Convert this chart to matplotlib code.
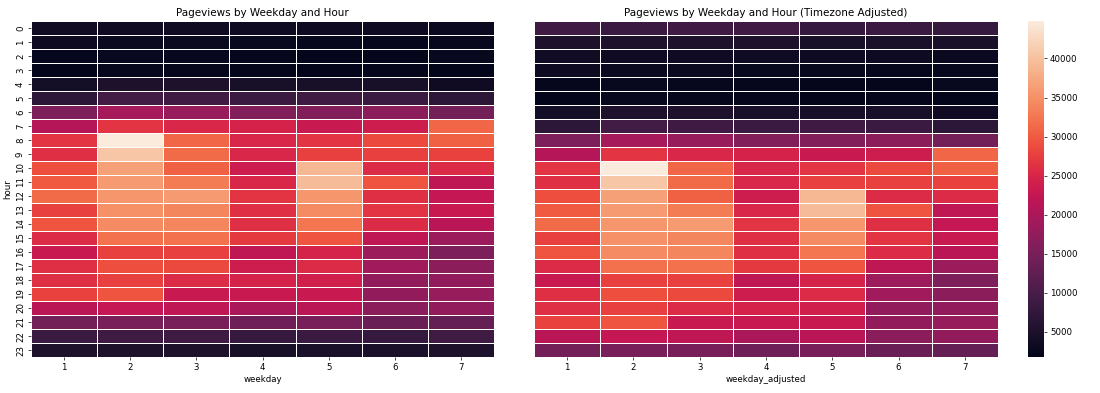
import matplotlib
matplotlib.use("Agg")
import matplotlib.pyplot as plt
import numpy as np
import pandas as pd
import seaborn as sns


# pageviews per hour (rows 0..23) and weekday (columns 1..7)
hours = list(range(24))
weekdays = [1, 2, 3, 4, 5, 6, 7]

pageviews = [
    [3800, 3500, 3500, 3400, 3200, 3200, 3000],
    [3300, 3100, 3000, 2800, 2600, 2400, 2600],
    [2400, 2700, 2600, 2400, 2200, 2300, 2700],
    [1900, 2500, 2400, 2300, 2100, 2200, 1800],
    [4000, 5000, 5000, 4500, 4500, 4500, 3600],
    [7000, 9500, 9000, 8500, 9000, 8500, 7000],
    [15500, 19500, 18000, 16000, 16000, 17000, 14500],
    [21000, 26500, 25000, 24500, 23000, 23500, 31000],
    [26500, 44800, 31000, 25000, 26500, 28500, 30500],
    [26000, 40500, 31500, 25000, 27500, 27500, 28000],
    [29000, 36500, 30500, 23500, 39000, 25500, 25500],
    [30000, 36000, 33000, 25000, 39500, 29500, 22000],
    [31500, 35500, 36000, 26500, 35500, 26000, 22500],
    [27500, 35000, 34000, 26000, 34500, 26500, 23000],
    [29500, 34500, 34000, 26000, 32500, 25500, 21500],
    [25500, 32000, 32000, 27000, 29500, 22000, 18500],
    [23000, 27500, 27500, 22000, 24500, 18500, 15500],
    [26000, 29000, 28500, 23500, 25500, 19000, 17000],
    [26000, 27500, 25500, 24500, 24000, 17500, 17500],
    [28000, 29500, 23000, 23000, 23000, 17500, 18000],
    [21500, 22500, 22000, 20000, 21500, 17000, 17500],
    [14500, 15000, 15000, 14000, 15000, 13500, 13000],
    [8500, 9000, 9000, 8000, 8500, 8000, 9000],
    [5000, 5000, 5000, 4500, 4800, 4800, 5000],
]

tz_shift_hours = 2


def build_tables():
    df = pd.DataFrame(pageviews, index=pd.Index(hours, name="hour"),
                      columns=pd.Index(weekdays, name="weekday"))

    # shift every timestamp by the timezone offset (week wraps around)
    flat = df.T.values.reshape(-1)
    shifted = np.roll(flat, tz_shift_hours).reshape(len(weekdays), len(hours)).T
    df_adj = pd.DataFrame(shifted, index=pd.Index(hours, name="hour"),
                          columns=pd.Index(weekdays, name="weekday_adjusted"))
    return df, df_adj


def main():
    df, df_adj = build_tables()

    dpi = 62
    fig = plt.figure(figsize=(1100 / dpi, 393 / dpi), dpi=dpi)
    ax1 = fig.add_axes([0.0282, 0.0916, 0.4209, 0.855])
    ax2 = fig.add_axes([0.4855, 0.0916, 0.4218, 0.855])
    cax = fig.add_axes([0.9345, 0.0916, 0.01455, 0.855])

    sns.heatmap(df, ax=ax1, linewidths=1, linecolor="white", cbar=False)
    ax1.set_title("Pageviews by Weekday and Hour", fontsize=12)
    ax1.set_yticklabels([str(h) for h in hours], rotation=90, va="center")

    sns.heatmap(df_adj, ax=ax2, linewidths=1, linecolor="white",
                cbar_ax=cax, yticklabels=False)
    ax2.set_title("Pageviews by Weekday and Hour (Timezone Adjusted)", fontsize=12)
    ax2.set_ylabel("")

    fig.savefig("out.png", dpi=dpi)


if __name__ == "__main__":
    main()
